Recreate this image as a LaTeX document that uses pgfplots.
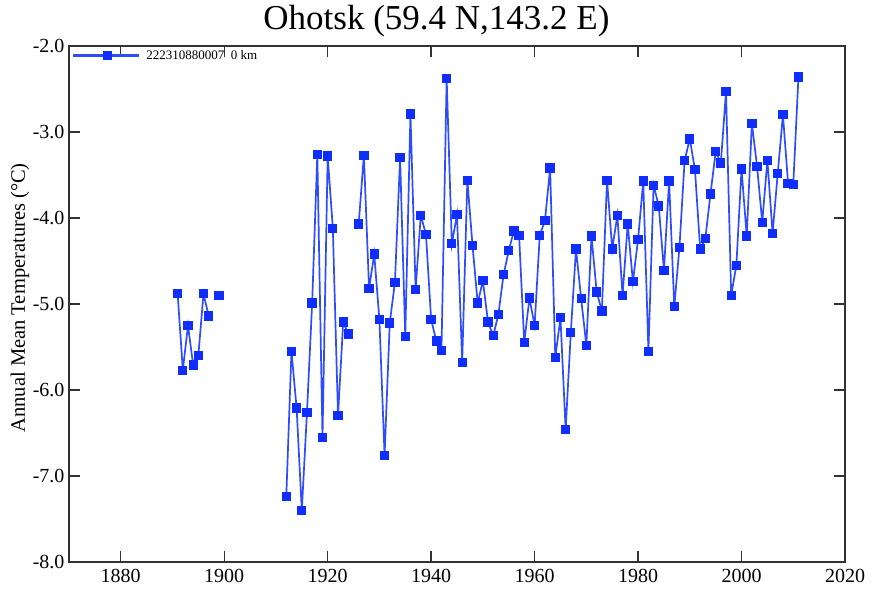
\documentclass[border=0pt]{standalone}
\usepackage{fontspec}
\setmainfont{Liberation Serif}
\usepackage{pgfplots}
\pgfplotsset{compat=1.18}
\definecolor{lineblue}{RGB}{45,75,255}
\definecolor{markblue}{RGB}{15,45,255}
\definecolor{axisgray}{RGB}{50,50,50}
\pgfplotstableread{
year temp
1891 -4.88
1892 -5.77
1893 -5.25
1894 -5.71
1895 -5.60
1896 -4.88
1897 -5.14
1898 nan
1899 -4.90
1900 nan
1912 -7.24
1913 -5.55
1914 -6.21
1915 -7.40
1916 -6.26
1917 -4.99
1918 -3.26
1919 -6.55
1920 -3.28
1921 -4.12
1922 -6.30
1923 -5.21
1924 -5.35
1925 nan
1926 -4.07
1927 -3.27
1928 -4.82
1929 -4.42
1930 -5.18
1931 -6.76
1932 -5.22
1933 -4.75
1934 -3.30
1935 -5.38
1936 -2.79
1937 -4.83
1938 -3.97
1939 -4.19
1940 -5.18
1941 -5.43
1942 -5.54
1943 -2.38
1944 -4.30
1945 -3.96
1946 -5.68
1947 -3.56
1948 -4.32
1949 -4.99
1950 -4.73
1951 -5.21
1952 -5.37
1953 -5.12
1954 -4.66
1955 -4.38
1956 -4.15
1957 -4.20
1958 -5.45
1959 -4.93
1960 -5.25
1961 -4.20
1962 -4.03
1963 -3.42
1964 -5.62
1965 -5.16
1966 -6.46
1967 -5.33
1968 -4.36
1969 -4.94
1970 -5.48
1971 -4.21
1972 -4.86
1973 -5.08
1974 -3.56
1975 -4.36
1976 -3.97
1977 -4.90
1978 -4.07
1979 -4.74
1980 -4.25
1981 -3.57
1982 -5.55
1983 -3.62
1984 -3.86
1985 -4.61
1986 -3.57
1987 -5.03
1988 -4.34
1989 -3.33
1990 -3.08
1991 -3.44
1992 -4.36
1993 -4.24
1994 -3.72
1995 -3.23
1996 -3.36
1997 -2.53
1998 -4.90
1999 -4.55
2000 -3.43
2001 -4.21
2002 -2.90
2003 -3.40
2004 -4.05
2005 -3.33
2006 -4.18
2007 -3.48
2008 -2.80
2009 -3.60
2010 -3.61
2011 -2.36
}\ohotsk
\begin{document}
\begin{tikzpicture}[x=1pt,y=1pt]
\begin{axis}[
  at={(0pt,0pt)}, anchor=south west,
  scale only axis, width=776pt, height=516pt,
  xmin=1870, xmax=2020, ymin=-8, ymax=-2,
  xtick={1880,1900,1920,1940,1960,1980,2000,2020},
  xticklabels={1880,1900,1920,1940,1960,1980,2000,2020},
  ytick={-8,-7,-6,-5,-4,-3,-2},
  yticklabels={-8.0,-7.0,-6.0,-5.0,-4.0,-3.0,-2.0},
  tick align=inside, major tick length=11pt,
  tick style={line width=1.4pt, axisgray},
  axis line style={line width=1.8pt, axisgray},
  ticklabel style={font=\fontsize{20}{22}\selectfont},
  xticklabel style={yshift=-4pt},
  yticklabel style={xshift=-1pt},
  title={Ohotsk (59.4 N,143.2 E)},
  title style={at={(axis description cs:0.4736,1.0205)}, anchor=base, font=\fontsize{35}{37}\selectfont},
  ylabel={Annual Mean Temperatures (°C)},
  ylabel style={at={(axis description cs:-0.0631,0.512)}, anchor=center, font=\fontsize{20.5}{22}\selectfont},
  unbounded coords=jump,
  legend style={at={(axis description cs:0,1)}, anchor=north west, draw=none, fill=none,
    font=\fontsize{13}{14}\selectfont, inner sep=0pt, xshift=3pt, yshift=-2pt,
    nodes={inner xsep=6pt}},
  legend cell align=left,
  legend image code/.code={
    \pgfsetcolor{lineblue}\pgfsetlinewidth{2.2pt}%
    \pgfpathmoveto{\pgfpoint{0pt}{0pt}}\pgfpathlineto{\pgfpoint{66pt}{0pt}}\pgfusepath{stroke}%
    \draw[draw=markblue, fill=markblue, mark=square*, mark size=3.3pt] plot coordinates {(34pt,0pt)};},
]
\addplot[color=lineblue, line width=1.7pt, mark=square*, mark size=3.8pt,
  mark options={solid, draw=markblue, fill=markblue}] table[x=year, y=temp] {\ohotsk};
\addlegendentry{222310880007~~0 km}
\end{axis}
\pgfresetboundingbox
\path (-69pt,-31pt) rectangle (804pt,562pt);
\end{tikzpicture}
\end{document}
